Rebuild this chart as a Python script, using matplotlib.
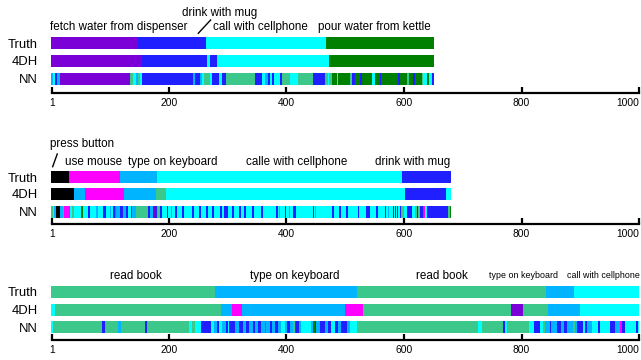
import matplotlib
matplotlib.use("Agg")
import matplotlib.pyplot as plt

plt.rcParams['font.family'] = ['Liberation Sans', 'DejaVu Sans']

# ---------------- data ----------------
categories = ["fetch water from dispenser", "drink with mug", "call with cellphone",
              "pour water from kettle", "press button", "use mouse",
              "type on keyboard", "read book"]
codes = ["P", "B", "C", "G", "K", "M", "S", "R"]
colors = ["#7b00d8", "#1f1fff", "#00ffff", "#008000", "#000000", "#ff00ff",
          "#00b4ff", "#3cc88a"]
color_of = dict(zip(codes, colors))

rows = ["Truth", "4DH", "NN"]
ticks = [1, 200, 400, 600, 800, 1000]

# panel 1 (run-length: class code, end frame)
p1_truth_cls = "P B C G".split()
p1_truth_end = [148, 263, 467, 651]
p1_4dh_cls = "P B C B C G".split()
p1_4dh_end = [155, 265, 270, 281, 473, 651]
p1_nn_cls = ("S C B S P R C S R C B S B S C R C B C B R B C S B C B C B R "
             "C R B R C R G C G R B G B G C G B G B G R G B G R C G C B").split()
p1_nn_end = [3, 6, 10, 15, 134, 139, 144, 148, 151, 154, 241, 244, 253, 256, 260,
             270, 273, 286, 291, 297, 346, 358, 363, 368, 372, 375, 378, 389, 392,
             406, 420, 445, 466, 470, 473, 477, 486, 488, 508, 511, 517, 526, 529,
             545, 550, 559, 561, 590, 593, 605, 608, 616, 619, 630, 633, 639, 642,
             647, 651]

# panel 2
p2_truth_cls = "K M S C B".split()
p2_truth_end = [30, 117, 179, 597, 680]
p2_4dh_cls = "K S M S R C B C".split()
p2_4dh_end = [38, 57, 124, 178, 195, 601, 672, 680]
p2_nn_cls = ("R C S K S R M C R C G C B C S C B C S C B M S B S B C G S R "
             "B S P B R B C B C S C B C B C B C B C B C B C B C B C B C B "
             "C B C B C B C B C S C B C S C B C B C S C B C B C B C B C B "
             "C B C B C S C B C B C B C B R C B C R B R B M C B R G").split()
p2_nn_end = [3, 5, 8, 15, 19, 22, 31, 35, 38, 51, 53, 62, 65, 76, 79, 88, 93, 99,
             102, 105, 108, 110, 116, 122, 127, 130, 135, 137, 144, 164,
             167, 173, 176, 180, 184, 188, 196, 198, 204, 206, 210, 213, 223, 226,
             240, 243, 252, 255, 263, 266, 274, 277, 287, 290, 294, 300, 308, 311,
             320, 322, 328, 331, 342, 345, 357, 360, 382, 385, 387, 389, 397, 400,
             404, 406, 411, 417, 445, 447, 449, 451, 478, 481, 490, 493, 502, 504,
             521, 524, 536, 542, 553, 556, 567, 569, 572, 574, 581, 583, 584, 586,
             588, 590, 593, 595, 600, 605, 613, 619, 622, 624, 627, 632, 636, 639,
             675, 678, 680]

# panel 3
p3_truth_cls = "R S R S C".split()
p3_truth_end = [278, 520, 841, 889, 1000]
p3_4dh_cls = "C R S M S M R P R S C".split()
p3_4dh_end = [6, 288, 308, 325, 500, 530, 782, 803, 845, 899, 1000]
p3_nn_cls = ("C R B R S R B R C R C B C S B C S B C B S B S B S B S B S M "
             "S B S B S C S B S R G B S C S G B S B S B C B S B S C R C R "
             "B C R C B C R S B S B S B S R S B C B S C B C B S M B C B C").split()
p3_nn_end = [2, 86, 91, 113, 118, 160, 163, 235, 239, 244, 254, 272, 277, 281, 285,
             291, 298, 301, 303, 312, 320, 326, 332, 337, 343, 346, 351, 356, 363,
             366, 372, 375, 380, 386, 391, 397, 401, 406, 411, 414, 417, 421, 425,
             442, 445, 448, 451, 457, 465, 471, 475, 482, 488, 493, 503, 508, 520,
             726, 732, 768, 772, 776, 813, 821, 832, 836, 840, 849, 851, 860, 868,
             872, 878, 888, 891, 895, 904, 908, 911, 920, 931, 934, 950, 959, 968,
             971, 976, 995, 998, 1000]

panel_data = [
    [(p1_truth_cls, p1_truth_end), (p1_4dh_cls, p1_4dh_end), (p1_nn_cls, p1_nn_end)],
    [(p2_truth_cls, p2_truth_end), (p2_4dh_cls, p2_4dh_end), (p2_nn_cls, p2_nn_end)],
    [(p3_truth_cls, p3_truth_end), (p3_4dh_cls, p3_4dh_end), (p3_nn_cls, p3_nn_end)],
]
for pd_ in panel_data:
    for c, e in pd_:
        assert len(c) == len(e), (len(c), len(e))

# segment annotations: (text, x frame, y px, fontsize)
p1_labels = [("fetch water from dispenser", -2, 26.7, 8.4),
             ("drink with mug", 222, 12.7, 8.4),
             ("call with cellphone", 275, 26.7, 8.4),
             ("pour water from kettle", 454, 26.7, 8.4)]
p2_labels = [("press button", -2, 144, 8.4),
             ("use mouse", 23, 161.7, 8.4),
             ("type on keyboard", 131, 161.7, 8.4),
             ("calle with cellphone", 332, 161.7, 8.4),
             ("drink with mug", 551, 161.7, 8.4)]
p3_labels = [("read book", 100, 276, 8.4),
             ("type on keyboard", 338, 276, 8.4),
             ("read book", 620, 276, 8.4),
             ("type on keyboard", 745, 275, 6.4),
             ("call with cellphone", 877, 275, 6.4)]

# ---------------- layout ----------------
W, H = 641, 360
X0, X1 = 50.2, 640.8
panels = [
    dict(top=0, axis=93.3, centers=[43.2, 60.9, 78.9], labels=p1_labels,
         slash=([250, 271], [33.3, 20])),
    dict(top=120, axis=224.4, centers=[177, 193.5, 211.8], labels=p2_labels,
         slash=([2.2, 10], [166.7, 154])),
    dict(top=255, axis=340, centers=[291.7, 310, 327.3], labels=p3_labels,
         slash=None),
]
BAR_H = 12

fig = plt.figure(figsize=(W / 100, H / 100), dpi=100)

for pl, pdat in zip(panels, panel_data):
    ax = fig.add_axes([X0 / W, 1 - pl["axis"] / H, (X1 - X0) / W,
                       (pl["axis"] - pl["top"]) / H])
    ax.set_xlim(-2, 1003)
    ax.set_ylim(pl["axis"], pl["top"])
    ax.patch.set_alpha(0)
    for yc, (cls, ends) in zip(pl["centers"], pdat):
        starts = [0] + ends[:-1]
        widths = [e - s for s, e in zip(starts, ends)]
        ax.barh([yc] * len(ends), widths, left=starts, height=BAR_H,
                color=[color_of[c] for c in cls], linewidth=0)
    for s in ["top", "right", "left"]:
        ax.spines[s].set_visible(False)
    ax.spines["bottom"].set_bounds(1, 1000)
    ax.spines["bottom"].set_linewidth(1.6)
    ax.set_xticks(ticks)
    ax.set_xticklabels([str(t) for t in ticks])
    ax.tick_params(axis="x", direction="in", length=4.5, width=1.6,
                   labelsize=7.4, pad=3.5)
    ax.xaxis.get_major_ticks()[-1].label1.set_horizontalalignment("right")
    ax.set_yticks(pl["centers"])
    ax.set_yticklabels(rows)
    ax.tick_params(axis="y", length=0, labelsize=9.4, pad=9)
    for txt, xf, yp, fs in pl["labels"]:
        ax.text(xf, yp, txt, fontsize=fs, ha="left", va="center", clip_on=False)
    if pl["slash"] is not None:
        ax.plot(pl["slash"][0], pl["slash"][1], color="black", lw=1.0,
                clip_on=False)

fig.savefig("out.png", dpi=100)
